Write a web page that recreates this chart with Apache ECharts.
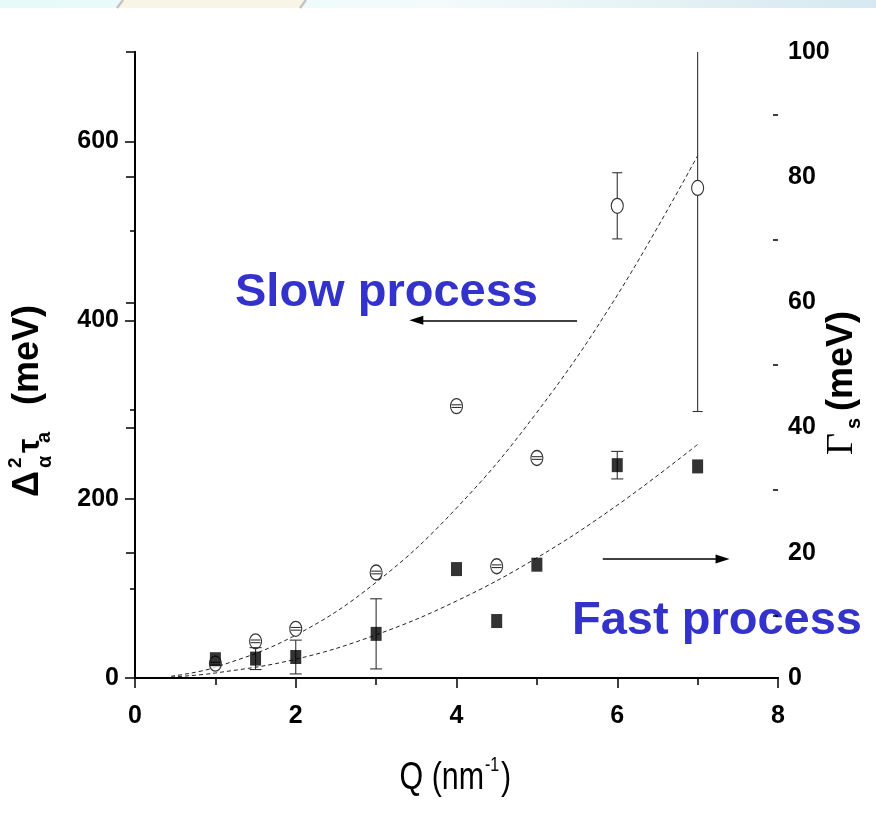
<!DOCTYPE html>
<html>
<head>
<meta charset="utf-8">
<script src="https://cdn.jsdelivr.net/npm/echarts@6/dist/echarts.min.js"></script>
<style>
  html, body { margin: 0; padding: 0; background: #ffffff; }
  #chart { width: 876px; height: 820px; }
</style>
</head>
<body>
<div id="chart"></div>
<script>
// Momentum transfer Q (nm^-1) of each measurement
const qValues = [1, 1.5, 2, 3, 4, 4.5, 5, 6, 7];

// Slow process: Δα²τa (meV), left axis, open circles
const slowValues = [16, 41, 55, 118, 304, 125, 246, 528, 548];
const slowErrors = [1.5, 1.5, 1.5, 1.5, 1.5, 1.5, 1.5, 37, 250];

// Fast process: Γs (meV), right axis, filled squares
const fastValues = [3.0, 3.1, 3.35, 7.05, 17.4, 9.1, 18.1, 34.0, 33.8];
const fastErrors = [0, 1.75, 2.7, 5.6, 0, 0, 0, 2.2, 0];

// Dashed fit curves, sampled along Q
const fitQ = [0.45, 1, 2, 3, 4, 5, 6, 7];
const slowFit = [2, 12, 48, 107, 190, 297, 428, 584];
const fastFit = [0.15, 0.8, 3.0, 6.9, 12.3, 19.2, 27.6, 37.3];

// Axis ticks and labels
const qMajor = [0, 2, 4, 6, 8];
const qMinor = [1, 3, 5, 7];
const qTop = [0, 1, 2, 3, 4, 5, 6, 7, 8];
const leftMajor = [0, 200, 400, 600];
const leftMinor = [100, 300, 500, 700];
const rightMajor = [0, 20, 40, 60, 80, 100];
const rightMinor = [10, 30, 50, 70, 90];

// Arrows pointing each label to its axis
const slowArrow = [[5.5, 400], [3.5, 400]];
const fastArrow = [[5.82, 19], [7.31, 19]];

const SANS = "'Liberation Sans', Arial, 'DejaVu Sans', sans-serif";
const SERIF = "'Liberation Serif', 'DejaVu Serif', serif";
const BLUE = '#3333cc';

const chart = echarts.init(document.getElementById('chart'), null, { renderer: 'canvas' });

const zip = (xs, ys, es) => xs.map((x, i) => es ? [x, ys[i], es[i]] : [x, ys[i]]);

// Error bars: vertical whisker with caps; for circles the part of the
// whisker inside the marker is skipped so the marker stays open.
function errorBars(halfCap, gapPx) {
  return function (params, api) {
    const x = api.value(0), y = api.value(1), e = api.value(2);
    if (!e) return null;
    const c = api.coord([x, y]);
    const hi = api.coord([x, y + e]);
    const lo = api.coord([x, y - e]);
    const style = { stroke: '#333', lineWidth: 1.1 };
    const kids = [];
    if (c[1] - gapPx > hi[1]) {
      kids.push({ type: 'line', shape: { x1: c[0], y1: hi[1], x2: c[0], y2: c[1] - gapPx }, style });
    }
    if (c[1] + gapPx < lo[1]) {
      kids.push({ type: 'line', shape: { x1: c[0], y1: c[1] + gapPx, x2: c[0], y2: lo[1] }, style });
    }
    kids.push({ type: 'line', shape: { x1: c[0] - halfCap, y1: hi[1], x2: c[0] + halfCap, y2: hi[1] }, style });
    kids.push({ type: 'line', shape: { x1: c[0] - halfCap, y1: lo[1], x2: c[0] + halfCap, y2: lo[1] }, style });
    return { type: 'group', children: kids };
  };
}

const tickFont = { fontFamily: SANS, fontWeight: 'bold', fontSize: 25, color: '#000' };
const axisLine = { show: true, lineStyle: { color: '#000', width: 2 } };
const tickLine = { color: '#000', width: 1.5 };

// Rotated composite axis titles (read bottom to top)
function rotatedText(pieces, x, y) {
  return {
    type: 'group', x, y, rotation: Math.PI / 2, z: 10,
    children: pieces.map(p => ({
      type: 'text', x: p.along, y: p.base - p.size * 0.35,
      style: {
        text: p.text, font: `${p.weight || 'bold'} ${p.size}px ${p.family || SANS}`,
        fill: '#000', textAlign: 'left', textVerticalAlign: 'middle'
      }
    }))
  };
}

// Horizontally condensed text piece
function narrowText(text, x, y, size, align) {
  return {
    type: 'text', x, y, scaleX: 0.8, z: 10,
    style: { text, font: `normal ${size}px ${SANS}`, fill: '#000', textAlign: align, textVerticalAlign: 'middle' }
  };
}

const option = {
  backgroundColor: '#ffffff',
  animation: false,
  grid: { left: 135, right: 98, top: 52, bottom: 142, containLabel: false },
  xAxis: [
    {
      type: 'value', position: 'bottom', min: 0, max: 8,
      axisLine,
      axisTick: { show: true, inside: false, length: 10, customValues: qMajor, lineStyle: tickLine },
      axisLabel: Object.assign({ margin: 26, customValues: qMajor }, tickFont),
      splitLine: { show: false }
    },
    {
      type: 'value', position: 'bottom', min: 0, max: 8,
      axisLine: { show: false },
      axisTick: { show: true, inside: false, length: 6, customValues: qMinor, lineStyle: tickLine },
      axisLabel: { show: false },
      splitLine: { show: false }
    },
    {
      type: 'value', position: 'top', min: 0, max: 8,
      axisLine,
      axisTick: { show: true, inside: true, length: 7, customValues: qTop, lineStyle: tickLine },
      axisLabel: { show: false },
      splitLine: { show: false }
    }
  ],
  yAxis: [
    {
      type: 'value', position: 'left', min: 0, max: 700,
      axisLine,
      axisTick: { show: true, inside: false, length: 10, customValues: leftMajor, lineStyle: tickLine },
      axisLabel: Object.assign({ margin: 16, customValues: leftMajor }, tickFont),
      splitLine: { show: false }
    },
    {
      type: 'value', position: 'right', min: 0, max: 100,
      axisLine,
      axisTick: { show: true, inside: true, length: 9, customValues: rightMajor, lineStyle: tickLine },
      axisLabel: Object.assign({ margin: 10, customValues: rightMajor }, tickFont),
      splitLine: { show: false }
    },
    {
      type: 'value', position: 'left', min: 0, max: 700,
      axisLine: { show: false },
      axisTick: { show: true, inside: false, length: 5, customValues: leftMinor, lineStyle: tickLine },
      axisLabel: { show: false },
      splitLine: { show: false }
    },
    {
      type: 'value', position: 'right', min: 0, max: 100,
      axisLine: { show: false },
      axisTick: { show: true, inside: true, length: 5, customValues: rightMinor, lineStyle: tickLine },
      axisLabel: { show: false },
      splitLine: { show: false }
    }
  ],
  series: [
    {
      name: 'slow fit', type: 'line', xAxisIndex: 0, yAxisIndex: 0,
      data: zip(fitQ, slowFit), smooth: 0.4, showSymbol: false, symbol: 'none',
      lineStyle: { color: '#222', width: 1, type: [4, 3] }, z: 2,
      markLine: {
        silent: true, symbol: ['none', 'triangle'], symbolSize: [9, 14],
        label: { show: false }, lineStyle: { color: '#000', width: 1.6, type: 'solid' },
        data: [[{ coord: slowArrow[0] }, { coord: slowArrow[1] }]]
      }
    },
    {
      name: 'fast fit', type: 'line', xAxisIndex: 0, yAxisIndex: 1,
      data: zip(fitQ, fastFit), smooth: 0.4, showSymbol: false, symbol: 'none',
      lineStyle: { color: '#222', width: 1, type: [4, 3] }, z: 2,
      markLine: {
        silent: true, symbol: ['none', 'triangle'], symbolSize: [9, 14],
        label: { show: false }, lineStyle: { color: '#000', width: 1.6, type: 'solid' },
        data: [[{ coord: fastArrow[0] }, { coord: fastArrow[1] }]]
      }
    },
    {
      name: 'slow', type: 'scatter', xAxisIndex: 0, yAxisIndex: 0,
      data: zip(qValues, slowValues),
      symbol: 'path://M10,0 A10,10 0 1,1 -10,0 A10,10 0 1,1 10,0 Z',
      symbolSize: [12, 15],
      itemStyle: { color: '#fff', borderColor: '#000', borderWidth: 1.2 }, z: 3
    },
    {
      name: 'slow errors', type: 'custom', xAxisIndex: 0, yAxisIndex: 0,
      data: zip(qValues, slowValues, slowErrors),
      renderItem: errorBars(5, 7.5), clip: true, z: 4
    },
    {
      name: 'fast errors', type: 'custom', xAxisIndex: 0, yAxisIndex: 1,
      data: zip(qValues, fastValues, fastErrors),
      renderItem: errorBars(6, 0), clip: true, z: 5
    },
    {
      name: 'fast', type: 'scatter', xAxisIndex: 0, yAxisIndex: 1,
      data: zip(qValues, fastValues),
      symbol: 'rect', symbolSize: [11, 14],
      itemStyle: { color: '#000' }, z: 6
    }
  ],
  graphic: [
    // header strip along the top edge
    {
      type: 'rect', shape: { x: 0, y: 0, width: 876, height: 8 }, z: -5,
      style: {
        fill: new echarts.graphic.LinearGradient(0, 0, 1, 0, [
          { offset: 0, color: '#e6fafa' }, { offset: 0.5, color: '#f3fbfb' }, { offset: 1, color: '#d6e8f0' }
        ])
      }
    },
    {
      type: 'polygon', shape: { points: [[123, 0], [306, 0], [300, 8], [117, 8]] }, z: -4,
      style: { fill: '#f9f5e6' }
    },
    { type: 'line', shape: { x1: 123, y1: 0, x2: 117, y2: 8 }, z: -3, style: { stroke: '#c4c4c4', lineWidth: 2.5 } },
    { type: 'line', shape: { x1: 306, y1: 0, x2: 300, y2: 8 }, z: -3, style: { stroke: '#c4c4c4', lineWidth: 2.5 } },
    {
      type: 'text', x: 235, y: 293, z: -1,
      style: { text: 'Slow process', font: `bold 47px ${SANS}`, fill: BLUE, textAlign: 'left', textVerticalAlign: 'middle' }
    },
    {
      type: 'text', x: 572, y: 621, z: -1,
      style: { text: 'Fast process', font: `bold 47px ${SANS}`, fill: BLUE, textAlign: 'left', textVerticalAlign: 'middle' }
    },
    // bottom axis title: Q (nm⁻¹)
    narrowText('Q (nm', 484, 779, 38, 'right'),
    narrowText('-1', 485, 765, 20, 'left'),
    narrowText(')', 501, 779, 38, 'left'),
    // left axis title: Δα²τa (meV)
    rotatedText([
      { text: 'Δ', along: 0, base: 0, size: 36 },
      { text: '2', along: 29, base: -19, size: 19 },
      { text: 'α', along: 29, base: 11, size: 20 },
      { text: 'τ', along: 44, base: 0, size: 32 },
      { text: 'a', along: 54, base: 10, size: 20 },
      { text: '(meV)', along: 92, base: 0, size: 36 }
    ], 41, 497),
    // right axis title: Γs (meV)
    rotatedText([
      { text: 'Γ', along: 0, base: 0, size: 38, weight: 'normal', family: SERIF },
      { text: 's', along: 26, base: 6, size: 20 },
      { text: '(meV)', along: 44, base: 0, size: 36 }
    ], 855, 455)
  ]
};

chart.setOption(option);
</script>
</body>
</html>
